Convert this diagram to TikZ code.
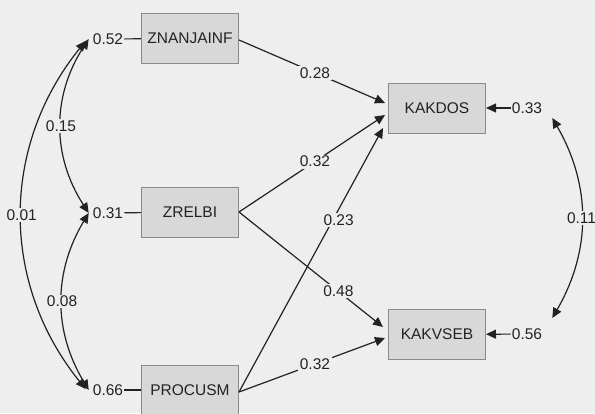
\documentclass[tikz,border=0pt]{standalone}
\usepackage{fontspec}
\setmainfont{Liberation Sans}
\usetikzlibrary{arrows.meta}
\definecolor{paper}{HTML}{EEEEEE}
\definecolor{boxfill}{HTML}{D8D8D8}
\definecolor{boxline}{HTML}{8A8A8A}
\definecolor{ink}{HTML}{222222}

\begin{document}
\begin{tikzpicture}[x=1pt,y=-1pt,
  lbl/.style={font=\fontsize{15.5}{18}\selectfont, text=ink},
  var/.style={lbl, draw=boxline, fill=boxfill, line width=1pt,
    minimum width=97pt, minimum height=50pt, inner sep=0pt},
  res/.style={lbl, inner sep=1pt},
  coef/.style={lbl, fill=paper, inner sep=1.5pt},
  link/.style={draw=ink, line width=1.2pt},
  path/.style={link, -{Triangle[length=10pt,width=9pt]}},
  cov/.style={link, {Triangle[length=10pt,width=9pt]}-{Triangle[length=10pt,width=9pt]}},
]
\fill[paper] (0,0) rectangle (595,413);
\useasboundingbox (0,0) rectangle (595,413);
\clip (0,0) rectangle (595,413);

% observed variables
\node[var] (zn) at (190,38.5) {ZNANJAINF};
\node[var] (zr) at (190,212) {ZRELBI};
\node[var] (pr) at (190,390) {PROCUSM};
\node[var] (kd) at (437,108) {KAKDOS};
\node[var] (kv) at (437,334.5) {KAKVSEB};

% error variances
\node[res] (e52) at (108,39) {0.52};
\node[res] (e31) at (108,213) {0.31};
\node[res] (e66) at (108,390) {0.66};
\node[res] (e33) at (527,108) {0.33};
\node[res] (e56) at (527,334) {0.56};

\draw[link] (e52) -- (zn);
\draw[link] (e31) -- (zr);
\draw[link] (e66) -- (pr);
\draw[path] (e33) -- (kd);
\draw[path] (e56) -- (kv);

% regression paths
\draw[path] ([yshift=-1.5]zn.east) -- ([shift={(-3,-5)}]kd.west)
  node[coef, pos=0.52] {0.28};
\draw[path] (zr.east) -- ([shift={(-3,7)}]kd.west)
  node[coef, pos=0.52] {0.32};
\draw[path] ([yshift=-2]pr.east) -- ([shift={(-5,20)}]kd.west)
  node[coef, pos=0.65, xshift=6] {0.23};
\draw[path] (zr.east) -- ([shift={(-5,-7.5)}]kv.west)
  node[coef, pos=0.69] {0.48};
\draw[path] ([yshift=-2]pr.east) -- ([shift={(-3,3.5)}]kv.west)
  node[coef, pos=0.52] {0.32};

% covariances
\draw[cov] ([xshift=-3]e52.west) to[bend right=33] node[coef] {0.15} ([xshift=-3]e31.west);
\draw[cov] ([xshift=-3]e31.west) to[bend right=31] node[coef] {0.08} ([xshift=-3]e66.west);
\draw[cov] ([shift={(-6,2)}]e52.west) to[bend right=39] node[coef] {0.01} ([shift={(-6,-1)}]e66.west);
\draw[cov] ([shift={(9,10)}]e33.east) to[bend left=30] node[coef] {0.11} ([shift={(9,-16)}]e56.east);
\end{tikzpicture}
\end{document}
